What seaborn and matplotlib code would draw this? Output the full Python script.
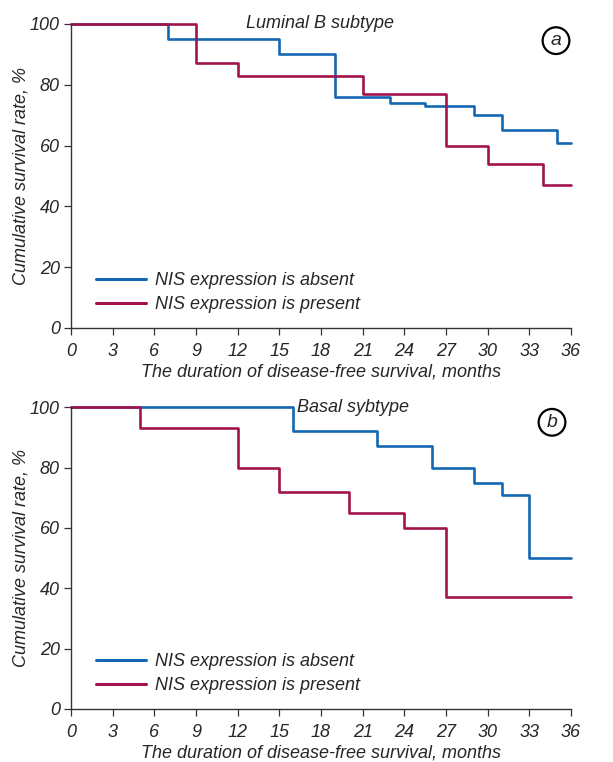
import matplotlib
matplotlib.use("Agg")
import matplotlib.pyplot as plt
import matplotlib.font_manager as font_manager
import pandas as pd
import seaborn as sns

# Kaplan-Meier step data (months, cumulative survival %)
lum_absent_t = [0, 7, 15, 19, 23, 25.5, 29, 31, 35, 36]
lum_absent_s = [100, 95, 90, 76, 74, 73, 70, 65, 61, 61]
lum_present_t = [0, 9, 12, 21, 27, 30, 34, 36]
lum_present_s = [100, 87, 83, 77, 60, 54, 47, 47]

bas_absent_t = [0, 16, 22, 26, 29, 31, 33, 36]
bas_absent_s = [100, 92, 87, 80, 75, 71, 50, 50]
bas_present_t = [0, 5, 12, 15, 20, 24, 27, 36]
bas_present_s = [100, 93, 80, 72, 65, 60, 37, 37]

groups = ["NIS expression is absent", "NIS expression is present"]
x_ticks = list(range(0, 37, 3))
y_ticks = [0, 20, 40, 60, 80, 100]

BLUE = "#1468b3"
RED = "#a3134b"

sns.set_style("ticks")
names = {f.name for f in font_manager.fontManager.ttflist}
if "Liberation Sans Narrow" in names:
    plt.rcParams["font.family"] = ["Liberation Sans Narrow", "DejaVu Sans"]
else:
    plt.rcParams["font.family"] = ["Liberation Sans", "DejaVu Sans"]
plt.rcParams["font.style"] = "italic"


def make_df(t_abs, s_abs, t_pre, s_pre):
    a = pd.DataFrame({"month": t_abs, "surv": s_abs, "group": groups[0]})
    b = pd.DataFrame({"month": t_pre, "surv": s_pre, "group": groups[1]})
    return pd.concat([a, b], ignore_index=True)


def draw_panel(ax, df, title, title_x, letter, letter_xy):
    sns.lineplot(data=df, x="month", y="surv", hue="group", hue_order=groups,
                 palette=[BLUE, RED], drawstyle="steps-post", linewidth=1.9,
                 estimator=None, sort=False, ax=ax)
    ax.set_xlim(0, 36)
    ax.set_ylim(0, 100)
    ax.set_xticks(x_ticks)
    ax.set_yticks(y_ticks)
    ax.tick_params(labelsize=13, length=5, width=0.9, color="#333333")
    ax.tick_params(axis="x", pad=6)
    ax.tick_params(axis="y", pad=3)
    for lab in ax.get_xticklabels() + ax.get_yticklabels():
        lab.set_fontstyle("italic")
    sns.despine(ax=ax)
    for sp in ("left", "bottom"):
        ax.spines[sp].set_linewidth(1.0)
        ax.spines[sp].set_color("#333333")
    for line in ax.get_lines():
        line.set_clip_on(False)
    ax.set_xlabel("The duration of disease-free survival, months",
                  fontsize=13, style="italic", labelpad=2)
    ax.set_ylabel("Cumulative survival rate, %", fontsize=13, style="italic",
                  labelpad=0)
    ax.text(title_x, 1.0, title, transform=ax.transAxes, ha="center",
            va="center", fontsize=13, style="italic")
    ax.text(letter_xy[0], letter_xy[1], letter, transform=ax.transAxes,
            ha="center", va="center", fontsize=14, style="italic",
            bbox=dict(boxstyle="circle,pad=0.25", fc="white", ec="black",
                      lw=1.6))
    leg = ax.legend(loc="lower left", bbox_to_anchor=(0.035, 0.025),
                    frameon=False, fontsize=13, handlelength=2.8,
                    handletextpad=0.5, labelspacing=0.4, borderaxespad=0)
    for h in leg.legend_handles:
        h.set_linewidth(2.2)


fig = plt.figure(figsize=(6.13, 7.62), dpi=100)
ax1 = fig.add_axes([0.1158, 0.5696, 0.8157, 0.399])
ax2 = fig.add_axes([0.1158, 0.0696, 0.8157, 0.396])

draw_panel(ax1, make_df(lum_absent_t, lum_absent_s, lum_present_t, lum_present_s),
           "Luminal B subtype", 0.498, "a", (0.97, 0.945))
draw_panel(ax2, make_df(bas_absent_t, bas_absent_s, bas_present_t, bas_present_s),
           "Basal sybtype", 0.564, "b", (0.962, 0.95))

fig.savefig("out.png", dpi=100)
